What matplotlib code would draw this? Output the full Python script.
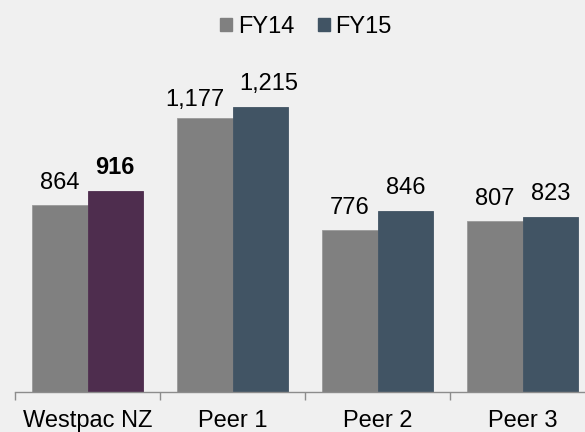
import matplotlib
matplotlib.use("Agg")
import matplotlib.pyplot as plt
from matplotlib.patches import Patch
import numpy as np

categories = ["Westpac NZ", "Peer 1", "Peer 2", "Peer 3"]
fy14 = [864, 1177, 776, 807]
fy15 = [916, 1215, 846, 823]
series_names = ["FY14", "FY15"]

plt.rcParams['font.family'] = ['Liberation Sans', 'DejaVu Sans']

bg = "#f0f0f0"
c14 = "#808080"
c15 = "#415464"
c_wbc = "#4e2d4e"
fs = 17

fig = plt.figure(figsize=(5.85, 4.32), dpi=100, facecolor=bg)
ax = fig.add_axes([15/585, 40/432, 580/585, 347/432], facecolor=bg)

x = np.arange(len(categories))
w = 0.383
colors15 = [c_wbc] + [c15] * (len(categories) - 1)
ax.bar(x - w/2, fy14, width=w, color=c14, edgecolor="#9a9a9a", linewidth=0.6)
ax.bar(x + w/2, fy15, width=w, color=colors15, edgecolor=colors15, linewidth=0.6)

ax.set_ylim(200, 200 + 347/0.2809)
ax.set_xlim(-0.5, 3.5)

for i, v in enumerate(fy14):
    off = (-7, 8.5) if i == 1 else (0, 12)
    ax.annotate(f"{v:,}", (x[i] - w/2, v), xytext=off, textcoords="offset points",
                ha="center", va="baseline", fontsize=fs, color="black")
for i, v in enumerate(fy15):
    off = (6, 12) if i == 1 else (0, 12)
    ax.annotate(f"{v:,}", (x[i] + w/2, v), xytext=off, textcoords="offset points",
                ha="center", va="baseline", fontsize=fs, color="black",
                fontweight="bold" if i == 0 else "normal")

for s in ["top", "right", "left"]:
    ax.spines[s].set_visible(False)
ax.spines["bottom"].set_color("#8c8c8c")
ax.spines["bottom"].set_linewidth(1.0)
ax.set_yticks([])
ax.set_xticks(x)
ax.set_xticklabels(categories, fontsize=fs)
ax.tick_params(axis="x", which="major", length=0, pad=13)
ax.set_xticks(np.arange(-0.5, 4.0, 1.0), minor=True)
ax.tick_params(axis="x", which="minor", length=6, color="#8c8c8c", width=1.0)

handles = [Patch(facecolor=c14, edgecolor=c14), Patch(facecolor=c15, edgecolor=c15)]
fig.legend(handles, series_names, loc="center", bbox_to_anchor=(306/585, 1 - 27/432),
           ncol=2, frameon=False, fontsize=fs, handlelength=0.5, handleheight=0.5,
           handletextpad=0.25, columnspacing=1.0)

fig.savefig("out.png", dpi=100, facecolor=bg)
